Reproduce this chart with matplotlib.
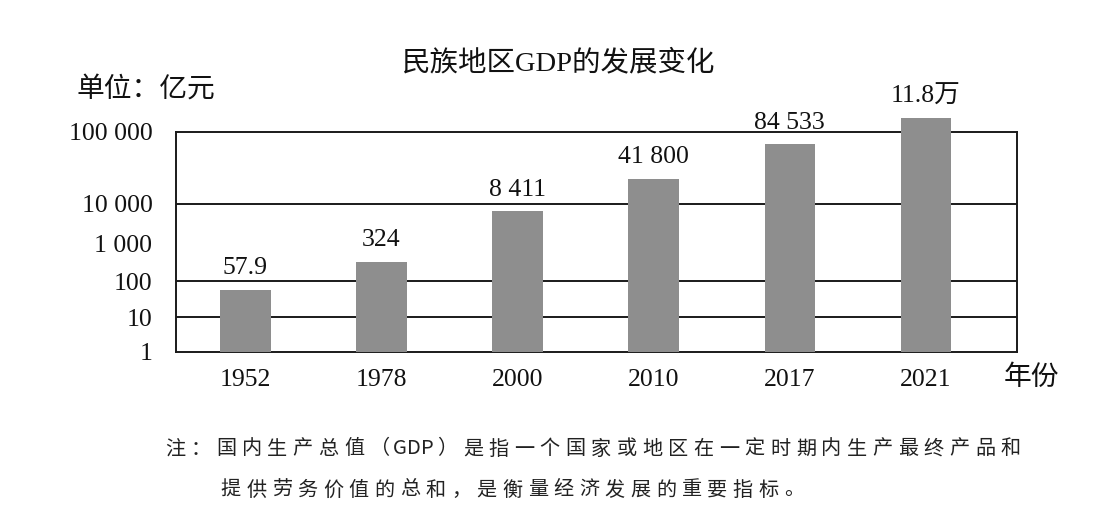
import matplotlib
matplotlib.use("Agg")
import matplotlib.pyplot as plt
import numpy as np

years = ["1952", "1978", "2000", "2010", "2017", "2021"]
gdp_values = [57.9, 324, 8411, 41800, 84533, 118000]
value_labels = ["57.9", "324", "8 411", "41 800", "84 533", "11.8万"]
tick_values = [1, 10, 100, 1000, 10000, 100000]
tick_labels = ["1", "10", "100", "1 000", "10 000", "100 000"]
grid_values = [10, 100, 10000]
title = "民族地区GDP的发展变化"
unit_text = "单位：亿元"
xlabel_text = "年份"
note_lines = [
    "注：国内生产总值（GDP）是指一个国家或地区在一定时期内生产最终产品和",
    "提供劳务价值的总和，是衡量经济发展的重要指标。",
]

# the printed axis is hand spaced: log steps up to 1 000, then linear steps
knot_values = np.array([1, 10, 100, 1000, 10000, 100000, 1000000], dtype=float)
knot_pos = np.array([0, 35, 71, 109, 148, 220, 220 + 72 * 10], dtype=float)
LOG_LIMIT = 1000.0


def forward(v):
    v = np.clip(np.asarray(v, dtype=float), 1e-9, None)
    low = np.interp(np.log10(v), np.log10(knot_values), knot_pos)
    high = np.interp(v, knot_values, knot_pos)
    return np.where(v <= LOG_LIMIT, low, high)


def inverse(p):
    p = np.asarray(p, dtype=float)
    limit_pos = np.interp(LOG_LIMIT, knot_values, knot_pos)
    low = 10 ** np.interp(p, knot_pos, np.log10(knot_values))
    high = np.interp(p, knot_pos, knot_values)
    return np.where(p <= limit_pos, low, high)


SERIF_CJK = ["Liberation Serif", "Noto Sans CJK SC"]
TEXT_COLOR = "#111111"
W, H = 1116, 521

fig = plt.figure(figsize=(W / 100, H / 100), dpi=100)
fig.patch.set_facecolor("white")
ax = fig.add_axes([176 / W, 1 - 352 / H, (1017 - 176) / W, (352 - 132) / H])

ax.set_yscale("function", functions=(forward, inverse))
ax.set_ylim(1, 100000)
ax.set_xlim(-0.51, 5.67)

x = np.arange(len(years))
for gv in grid_values:
    ax.axhline(gv, color="#1a1a1a", linewidth=1.4, zorder=1)

ax.bar(x, [v - 1 for v in gdp_values], bottom=1, width=0.37,
       color="#8e8e8e", edgecolor="none", zorder=2, clip_on=False)

for xi, v, lab in zip(x, gdp_values, value_labels):
    ax.annotate(lab, (xi, v), xytext=(0, 11), textcoords="offset points",
                ha="center", va="baseline", fontsize=18.5, family=SERIF_CJK,
                color=TEXT_COLOR, zorder=3, annotation_clip=False)

for side in ["left", "right", "top", "bottom"]:
    ax.spines[side].set_color("#1a1a1a")
    ax.spines[side].set_linewidth(1.4)
    ax.spines[side].set_zorder(1)

ax.set_yticks(tick_values)
ax.set_yticklabels(tick_labels, family=SERIF_CJK, fontsize=18.5, color=TEXT_COLOR)
ax.yaxis.set_minor_locator(matplotlib.ticker.NullLocator())
ax.set_xticks(x)
ax.set_xticklabels(years, family=SERIF_CJK, fontsize=18.5, color=TEXT_COLOR)
ax.tick_params(axis="y", length=0, pad=17)
ax.tick_params(axis="x", length=0, pad=12)

fig.text(559 / W, 1 - 63 / H, title, ha="center", va="center",
         fontsize=20.5, family=SERIF_CJK, color=TEXT_COLOR)
fig.text(76 / W, 1 - 90 / H, unit_text, ha="left", va="center",
         fontsize=20, family=SERIF_CJK, color=TEXT_COLOR)
fig.text(1004 / W, 1 - 378 / H, xlabel_text, ha="left", va="center",
         fontsize=20, family=SERIF_CJK, color=TEXT_COLOR)

# note text: spaced out like the printed page
pitch = 25.6
line_starts = [(162, 449), (218, 490)]
for line, (x0, y0) in zip(note_lines, line_starts):
    cx = x0
    for ch in line:
        adv = pitch * 0.55 if ord(ch) < 128 else pitch
        fig.text((cx + adv / 2) / W, 1 - y0 / H, ch, ha="center", va="center",
                 fontsize=14.5, family=["Noto Sans CJK SC", "DejaVu Sans"],
                 color="#222222")
        cx += adv

fig.savefig("out.png", dpi=100, facecolor="white")
